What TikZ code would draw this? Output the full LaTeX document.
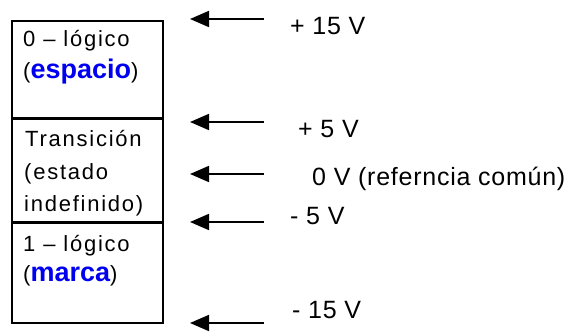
\documentclass[tikz,border=0pt]{standalone}
\usepackage{fontspec}
\setmainfont{Liberation Sans}
\newfontfamily\boxfont[LetterSpace=8]{Liberation Sans}
\newfontfamily\lblfont[LetterSpace=3]{Liberation Sans}
\newfontfamily\hlfont{Liberation Sans}
\usetikzlibrary{arrows.meta}
\definecolor{hlblue}{RGB}{0,0,240}
\begin{document}
\begin{tikzpicture}[x=1pt,y=-1pt,
  boxtxt/.style={anchor=base west, inner sep=0pt, font=\boxfont\fontsize{22}{26}\selectfont},
  lbl/.style={anchor=base west, inner sep=0pt, font=\lblfont\fontsize{25}{30}\selectfont},
  arr/.style={-{Triangle[length=19pt,width=16pt]}, line width=1.8pt},
  frame/.style={line width=2pt},
  divider/.style={line width=3pt}]
\useasboundingbox (0,0) rectangle (571,332);
% box
\draw[frame] (12,21) rectangle (163,323);
\draw[divider] (12,118) -- (163,118);
\draw[divider] (12,222) -- (163,222);
% box texts
\node[boxtxt] (l1) at (23,46.7) {0 – lógico};
\node[boxtxt] (l2) at (23,78) {(\textcolor{hlblue}{\hlfont\fontsize{27}{30}\selectfont\bfseries espacio})};
\node[boxtxt] (l3) at (25,146.7) {Transición};
\node[boxtxt] (l4) at (24,179) {(estado};
\node[boxtxt] (l5) at (24,211) {indefinido)};
\node[boxtxt] (l6) at (23,251.7) {1 – lógico};
\node[boxtxt] (l7) at (23,281.7) {(\textcolor{hlblue}{\hlfont\fontsize{27}{30}\selectfont\bfseries marca})};
% arrows
\coordinate (a1t) at (264,19);  \coordinate (a1h) at (190,19);
\coordinate (a2t) at (264,122); \coordinate (a2h) at (190,122);
\coordinate (a3t) at (264,174); \coordinate (a3h) at (190,174);
\coordinate (a4t) at (264,222); \coordinate (a4h) at (190,222);
\coordinate (a5t) at (264,323); \coordinate (a5h) at (190,323);
\draw[arr] (a1t) -- (a1h);
\draw[arr] (a2t) -- (a2h);
\draw[arr] (a3t) -- (a3h);
\draw[arr] (a4t) -- (a4h);
\draw[arr] (a5t) -- (a5h);
% labels
\node[lbl] (v1) at (290,34.5) {+ 15 V};
\node[lbl] (v2) at (298,137) {+ 5 V};
\node[lbl] (v3) at (312,185) {0 V (referncia común)};
\node[lbl] (v4) at (290,224) {- 5 V};
\node[lbl] (v5) at (292,318) {- 15 V};
\end{tikzpicture}
\end{document}
